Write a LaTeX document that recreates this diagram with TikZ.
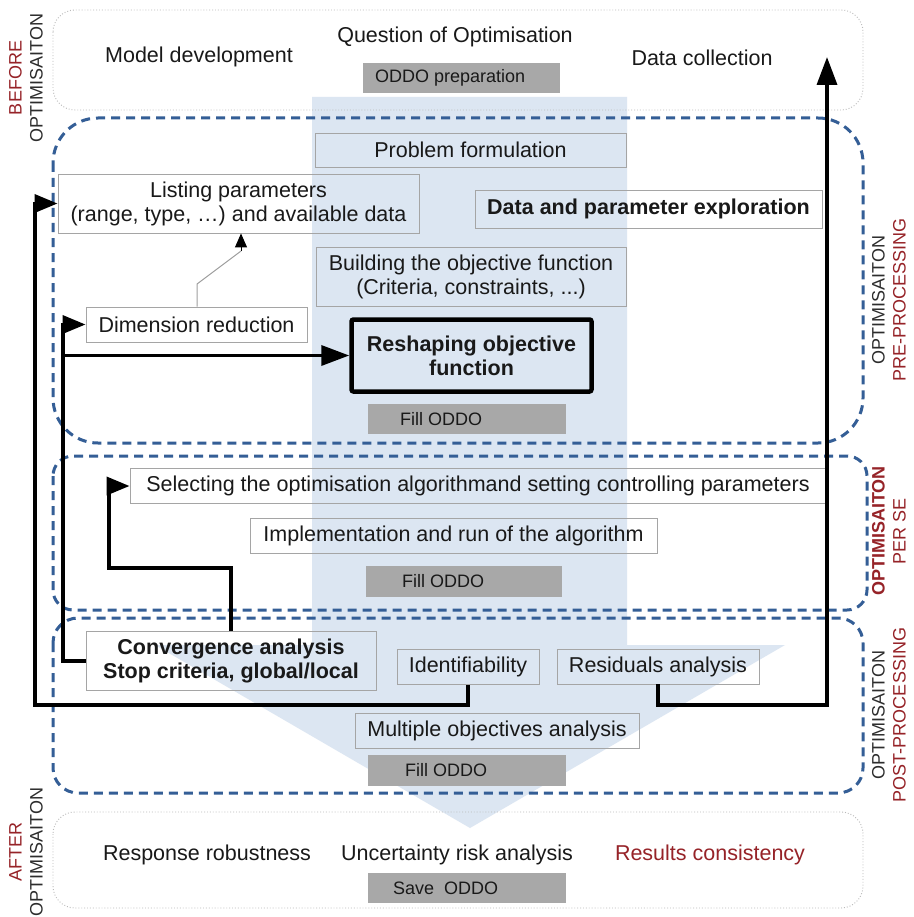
\documentclass[tikz,border=0pt]{standalone}
\usepackage{fontspec}
\setmainfont{Liberation Sans}
\usetikzlibrary{arrows.meta}
\definecolor{arrowblue}{RGB}{220,230,242}
\definecolor{dashblue}{RGB}{52,94,150}
\definecolor{darkred}{RGB}{150,35,40}
\definecolor{oddogray}{RGB}{168,168,168}
\definecolor{boxgray}{RGB}{165,165,165}
\definecolor{dotgray}{RGB}{185,185,185}
\definecolor{txt}{RGB}{25,25,25}
\definecolor{sidegray}{RGB}{45,45,45}
\newcommand{\dgmain}{\fontsize{21.5}{24}\selectfont}
\newcommand{\dgside}{\fontsize{18}{21}\selectfont}
\newcommand{\dgoddo}{\fontsize{18}{21}\selectfont}
\begin{document}
\begin{tikzpicture}[x=1pt,y=-1pt,
  box/.style={draw=boxgray, line width=0.9pt, inner sep=0pt, align=center, font=\dgmain, text=txt},
  plain/.style={inner sep=0pt, font=\dgmain, text=txt},
  oddo/.style={fill=oddogray, draw=none, inner sep=0pt},
  oddotxt/.style={inner sep=0pt, font=\dgoddo, text=txt},
  side/.style={inner sep=0pt, align=center, font=\dgside, text=sidegray},
  secd/.style={draw=dashblue, line width=3pt, dash pattern=on 9pt off 6pt},
  dotbox/.style={draw=dotgray, line width=0.9pt, dotted, rounded corners=22pt},
  conn/.style={draw=black, line width=3.5pt},
  arr/.style={-{Triangle[length=23pt,width=18pt]}},
  bigarr/.style={-{Triangle[length=28pt,width=20pt]}}
]
\useasboundingbox[fill=white] (0,0) rectangle (913,917);

% big flow arrow
\fill[arrowblue] (312,97) -- (627,97) -- (627,645) -- (785,645) -- (470,828) -- (155,645) -- (312,645) -- cycle;

% before / after boxes
\draw[dotbox] (53,10) rectangle (863,110);
\draw[dotbox] (53,812) rectangle (863,908);

% section boxes
\draw[secd, rounded corners=45pt] (53,118) rectangle (863,443);
\draw[secd, rounded corners=20pt] (53,456) rectangle (867,610);
\draw[secd, rounded corners=25pt] (53,618) rectangle (863,793);

% top texts
\node[plain] (model) at (199,57) {Model development};
\node[plain] (quest) at (455,37) {Question of Optimisation};
\node[plain] (datac) at (702,58) {Data collection};
\node[oddo, minimum width=197, minimum height=30] (o0) at (461.5,78) {};
\node[oddotxt, anchor=west] (o0t) at (375,78) {ODDO preparation};

% pre-processing
\node[box, minimum width=311, minimum height=34] (prob) at (470.5,150) {Problem formulation};
\node[box, minimum width=361, minimum height=59] (list) at (238.5,203.5) {Listing parameters\\(range, type, …) and available data};
\node[box, minimum width=347, minimum height=38, font=\dgmain\bfseries] (explo) at (648.5,209) {Data and parameter exploration};
\node[box, minimum width=310, minimum height=59] (build) at (471,277) {Building the objective function\\(Criteria, constraints, ...)};
\node[box, minimum width=221, minimum height=35] (dimred) at (196.5,324.5) {Dimension reduction};
\node[box, draw=black, line width=4.5pt, rounded corners=2pt, minimum width=240, minimum height=72, font=\dgmain\bfseries] (reshape) at (471.5,355.5) {Reshaping objective\\function};
\node[oddo, minimum width=198, minimum height=30] (o1) at (467,419) {};
\node[oddotxt, anchor=west] (o1t) at (400,419) {Fill ODDO};

% optimisation per se
\node[box, minimum width=696, minimum height=35] (select) at (478,486) {Selecting the optimisation algorithmand setting controlling parameters};
\node[box, minimum width=407, minimum height=35] (impl) at (453.5,535.5) {Implementation and run of the algorithm};
\node[oddo, minimum width=196, minimum height=31] (o2) at (464,581.5) {};
\node[oddotxt, anchor=west] (o2t) at (402,581.5) {Fill ODDO};

% post-processing
\node[box, minimum width=290, minimum height=59, font=\dgmain\bfseries] (conv) at (231,661) {Convergence analysis\\Stop criteria, global/local};
\node[box, minimum width=142, minimum height=35] (ident) at (468,667) {Identifiability};
\node[box, minimum width=202, minimum height=35] (resid) at (658,666.5) {Residuals analysis};
\node[box, minimum width=284, minimum height=35] (multi) at (497,730.5) {Multiple objectives analysis};
\node[oddo, minimum width=198, minimum height=31] (o3) at (467,770.5) {};
\node[oddotxt, anchor=west] (o3t) at (405,770.5) {Fill ODDO};

% after
\node[plain] (robust) at (207,855) {Response robustness};
\node[plain] (uncert) at (457,855) {Uncertainty risk analysis};
\node[plain, text=darkred] (consist) at (710,855) {Results consistency};
\node[oddo, minimum width=198, minimum height=30] (o4) at (467,888) {};
\node[oddotxt, anchor=west] (o4t) at (393,888) {Save\ \ ODDO};

% side labels
\node[side, rotate=90] (lbl1) at (26,78) {\textcolor{darkred}{BEFORE}\\OPTIMISAITON};
\node[side, rotate=90] (lbl2) at (889,300) {OPTIMISAITON\\\textcolor{darkred}{PRE-PROCESSING}};
\node[side, rotate=90, text=darkred] (lbl3) at (889,531) {\textbf{OPTIMISAITON}\\PER SE};
\node[side, rotate=90] (lbl4) at (889,715) {OPTIMISAITON\\\textcolor{darkred}{POST-PROCESSING}};
\node[side, rotate=90] (lbl5) at (26,852) {\textcolor{darkred}{AFTER}\\OPTIMISAITON};

% connectors
\coordinate (lx1) at (35,705);
\coordinate (lx2) at (63,0);
\coordinate (c3) at (109,568);
\coordinate (rx) at (827,705);
\coordinate (uptip) at (827,57);
\coordinate (dimbend) at (197,284);
\coordinate (diagend) at (241,251);
\coordinate (listin) at (241,233);

\draw[draw=gray!75, line width=1pt] (dimred.north -| dimbend) -- (dimbend) -- (diagend);
\draw[draw=black, line width=1pt, -{Triangle[length=14pt,width=12pt]}] (diagend) -- (list.south -| listin);

\draw[conn, arr] (ident.south) |- (lx1) |- (list.west);
\draw[conn, bigarr] (resid.south) |- (rx) -- (uptip);
\draw[conn, arr] (conv.west) -- (conv.west -| lx2) |- (dimred.west);
\draw[conn, bigarr] (lx2 |- reshape.west) -- (reshape.west);
\draw[conn, arr] (conv.north) |- (c3) |- (select.west);
\end{tikzpicture}
\end{document}
